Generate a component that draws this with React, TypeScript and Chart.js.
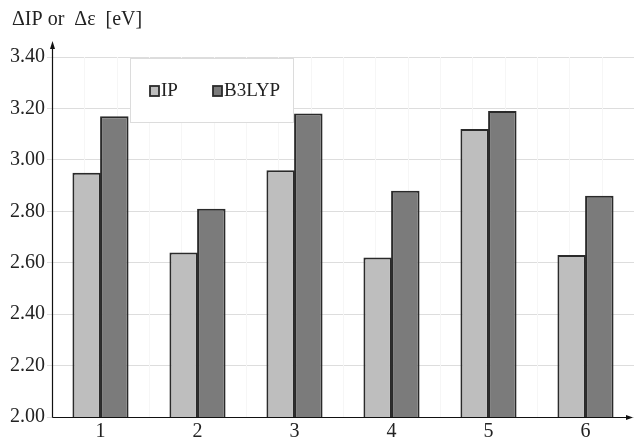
import React, { useEffect, useRef } from "react";
import { Chart, registerables } from "chart.js";

Chart.register(...registerables);

const categories = ["1", "2", "3", "4", "5", "6"];
const ipValues = [2.95, 2.64, 2.96, 2.62, 3.12, 2.63];
const b3lypValues = [3.17, 2.81, 3.18, 2.88, 3.19, 2.86];
const seriesNames = ["IP", "B3LYP"];
const yTitle = "ΔIP or  Δε  [eV]";

const FONT = "'Liberation Serif', 'Times New Roman', serif";

const extrasPlugin = {
  id: "extras",
  beforeDatasetsDraw(chart: any) {
    const { ctx, chartArea } = chart;
    const { left, right, top, bottom } = chartArea;
    ctx.save();
    ctx.strokeStyle = "#f6f6f6";
    ctx.lineWidth = 1;
    const n = categories.length * 3;
    const step = (right - left) / n;
    for (let i = 1; i < n; i++) {
      const x = Math.round(left + i * step) + 0.5;
      ctx.beginPath();
      ctx.moveTo(x, top);
      ctx.lineTo(x, bottom);
      ctx.stroke();
    }
    ctx.restore();
  },
  afterDatasetsDraw(chart: any) {
    const { ctx, chartArea } = chart;
    const { left, right, top, bottom } = chartArea;
    ctx.save();
    // legend box
    const bx = 130.5, by = 58.5, bw = 163, bh = 64;
    ctx.fillStyle = "#ffffff";
    ctx.fillRect(bx, by, bw, bh);
    ctx.strokeStyle = "#dcdcdc";
    ctx.lineWidth = 1;
    ctx.strokeRect(bx, by, bw, bh);
    const ds = chart.data.datasets;
    const items = [
      { x: 150, label: ds[0].label, color: ds[0].backgroundColor },
      { x: 213, label: ds[1].label, color: ds[1].backgroundColor },
    ];
    ctx.font = `19px ${FONT}`;
    ctx.textBaseline = "middle";
    ctx.textAlign = "left";
    for (const it of items) {
      ctx.fillStyle = it.color;
      ctx.fillRect(it.x, 86, 9, 10);
      ctx.strokeStyle = "#2a2a2a";
      ctx.lineWidth = 1.8;
      ctx.strokeRect(it.x, 86, 9, 10);
      ctx.fillStyle = "#222222";
      ctx.fillText(it.label, it.x + 11, 91);
    }
    // axes
    ctx.strokeStyle = "#111111";
    ctx.fillStyle = "#111111";
    ctx.lineWidth = 1.2;
    const ax = Math.round(left) + 0.5;
    const ay = Math.round(bottom) + 0.5;
    ctx.beginPath();
    ctx.moveTo(ax, ay);
    ctx.lineTo(ax, top - 12);
    ctx.stroke();
    ctx.beginPath();
    ctx.moveTo(ax, top - 16);
    ctx.lineTo(ax - 2.5, top - 8);
    ctx.lineTo(ax + 2.5, top - 8);
    ctx.closePath();
    ctx.fill();
    ctx.beginPath();
    ctx.moveTo(ax, ay);
    ctx.lineTo(right - 4, ay);
    ctx.stroke();
    ctx.beginPath();
    ctx.moveTo(right - 1, ay);
    ctx.lineTo(right - 8, ay - 2.5);
    ctx.lineTo(right - 8, ay + 2.5);
    ctx.closePath();
    ctx.fill();
    // title
    ctx.font = `20px ${FONT}`;
    ctx.fillStyle = "#222222";
    ctx.textAlign = "left";
    ctx.textBaseline = "middle";
    ctx.fillText(yTitle, 12, 20);
    ctx.restore();
  },
};

export default function App() {
  const ref = useRef<HTMLCanvasElement | null>(null);
  useEffect(() => {
    if (!ref.current) return;
    const chart = new Chart(ref.current, {
      type: "bar",
      data: {
        labels: categories,
        datasets: [
          {
            label: seriesNames[0],
            data: ipValues,
            backgroundColor: "#bebebe",
            borderColor: "#2a2a2a",
            borderWidth: 2,
            borderSkipped: false,
          },
          {
            label: seriesNames[1],
            data: b3lypValues,
            backgroundColor: "#7b7b7b",
            borderColor: "#2a2a2a",
            borderWidth: 2,
            borderSkipped: false,
          },
        ],
      },
      options: {
        animation: false,
        responsive: false,
        maintainAspectRatio: false,
        layout: { padding: { top: 57, right: 0, bottom: 0, left: 0 } },
        datasets: { bar: { categoryPercentage: 0.57, barPercentage: 1.03 } },
        plugins: {
          legend: { display: false },
          tooltip: { enabled: false },
          title: { display: false },
        },
        scales: {
          x: {
            grid: { display: false, drawTicks: false },
            border: { display: false },
            ticks: {
              color: "#222222",
              font: { family: FONT, size: 20 },
              padding: 3,
            },
            afterFit(scale: any) {
              scale.height = 25;
            },
          },
          y: {
            min: 2,
            max: 3.4,
            grid: {
              color: "#dddddd",
              lineWidth: 1,
              tickLength: 5,
            },
            border: { display: false },
            ticks: {
              stepSize: 0.2,
              color: "#222222",
              font: { family: FONT, size: 20 },
              padding: 2,
              callback: (v: any) => Number(v).toFixed(2),
            },
            afterFit(scale: any) {
              scale.width = 52;
            },
          },
        },
      },
      plugins: [extrasPlugin],
    });
    return () => chart.destroy();
  }, []);
  return (
    <div style={{ position: "absolute", left: 0, top: 0, width: 634, height: 442, background: "#fff" }}>
      <canvas ref={ref} width={634} height={442} style={{ width: 634, height: 442 }} />
    </div>
  );
}
